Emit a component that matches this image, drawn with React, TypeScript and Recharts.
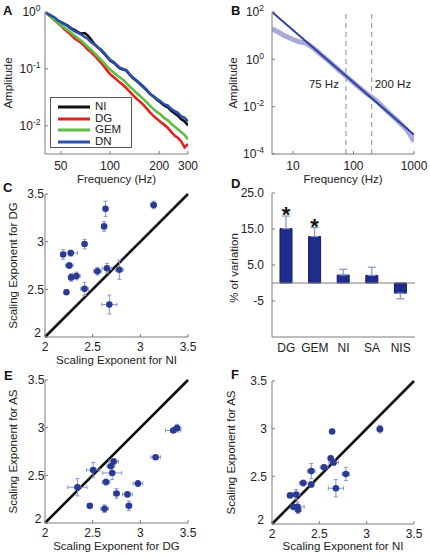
import React from 'react';
import {
  LineChart, Line, XAxis, YAxis, Legend, ReferenceLine,
  ScatterChart, Scatter, ErrorBar, BarChart, Bar, LabelList,
} from 'recharts';

const FONT = '"Liberation Sans", Arial, Helvetica, sans-serif';
const AXIS = '#7c7c7c';
const TXT = '#222222';
const TICK = { fontSize: 12, fill: TXT, fontFamily: FONT };
const DOT = '#2b3a92';
const ERR = '#8595cc';

// ---------- Panel A : normalized spectra ----------
const freqA = [40, 42, 44, 46, 48, 50, 52, 55, 58, 61, 64, 67, 70, 73, 76, 80, 84, 88, 92, 96, 100, 105, 110, 115, 120, 126, 132, 138, 145, 152, 160, 168, 176, 185, 194, 204, 214, 225, 236, 248, 260, 272, 286, 300];
const ampNI = [1, 0.912, 0.832, 0.776, 0.708, 0.661, 0.631, 0.575, 0.513, 0.479, 0.437, 0.417, 0.427, 0.389, 0.339, 0.275, 0.240, 0.214, 0.186, 0.162, 0.141, 0.129, 0.115, 0.102, 0.0977, 0.0933, 0.0794, 0.0692, 0.0617, 0.0550, 0.0479, 0.0417, 0.0363, 0.0324, 0.0288, 0.0257, 0.0229, 0.0214, 0.0186, 0.0166, 0.0151, 0.0132, 0.0120, 0.0102];
const ampDG = [1, 0.891, 0.794, 0.708, 0.631, 0.575, 0.513, 0.447, 0.389, 0.339, 0.309, 0.282, 0.251, 0.219, 0.200, 0.174, 0.148, 0.129, 0.110, 0.0933, 0.0813, 0.0724, 0.0646, 0.0575, 0.0525, 0.0457, 0.0398, 0.0347, 0.0302, 0.0269, 0.0234, 0.0200, 0.0170, 0.0148, 0.0132, 0.0117, 0.0105, 0.00933, 0.00794, 0.00676, 0.00617, 0.00537, 0.00417, 0.00479];
const ampGEM = [1, 0.891, 0.794, 0.724, 0.646, 0.589, 0.537, 0.479, 0.427, 0.380, 0.339, 0.309, 0.275, 0.245, 0.219, 0.191, 0.166, 0.145, 0.126, 0.110, 0.0977, 0.0871, 0.0776, 0.0708, 0.0646, 0.0562, 0.0490, 0.0437, 0.0380, 0.0339, 0.0295, 0.0257, 0.0224, 0.0195, 0.0174, 0.0158, 0.0138, 0.0126, 0.0110, 0.00977, 0.00871, 0.00776, 0.00692, 0.00575];
const ampDN = [1, 0.912, 0.851, 0.794, 0.708, 0.661, 0.617, 0.562, 0.501, 0.457, 0.427, 0.398, 0.363, 0.339, 0.302, 0.269, 0.240, 0.219, 0.191, 0.166, 0.145, 0.132, 0.117, 0.105, 0.100, 0.0955, 0.0794, 0.0708, 0.0631, 0.0562, 0.0490, 0.0427, 0.0363, 0.0331, 0.0295, 0.0269, 0.0240, 0.0229, 0.0200, 0.0182, 0.0170, 0.0148, 0.0138, 0.0120];
const namesA = ['NI', 'DG', 'GEM', 'DN'];
const colorsA = ['#111111', '#e3231f', '#5cbf40', '#2b50ad'];
const ticksAx = [50, 100, 200, 300];
const ticksAy = [0.01, 0.1, 1];
const dataA = freqA.map((f, i) => ({ f, NI: ampNI[i], DG: ampDG[i], GEM: ampGEM[i], DN: ampDN[i] }));

// ---------- Panel B : power-law fit ----------
const freqB = [4.5, 5.5, 7, 8.5, 10, 12, 14, 16, 18, 21, 25, 30, 40, 50, 60, 75, 90, 110, 130, 160, 200, 240, 280, 330, 400, 480, 560, 650, 750, 850, 1000];
const ampB = [19.1, 15.1, 10.5, 8.3, 6.9, 5.75, 5.25, 5.0, 4.17, 3.16, 2.24, 1.48, 0.794, 0.479, 0.316, 0.195, 0.132, 0.0851, 0.0589, 0.038, 0.0251, 0.0174, 0.012, 0.00794, 0.00501, 0.00331, 0.00229, 0.00158, 0.00107, 0.000692, 0.000339];
const freqFit = [4.5, 1000];
const ampFit = [100, 0.00065];
const cutoffsB = [75, 200];
const ticksBx = [10, 100, 1000];
const ticksBy = [0.0001, 0.01, 1, 100];
const dataB = freqB.map((f, i) => ({ f, a: ampB[i] }));
const dataFit = freqFit.map((f, i) => ({ f, a: ampFit[i] }));

// ---------- Panel D : % of variation ----------
const catsD = ['DG', 'GEM', 'NI', 'SA', 'NIS'];
const valsD = [15.1, 12.9, 2.2, 2.1, -2.8];
const errUpD = [3.5, 2.5, 1.6, 2.3, 0];
const errDownD = [0, 0, 0, 0, 1.6];
const starsD = ['*', '*', '', '', ''];
const ticksDy = [-5, 0, 5, 15, 25];
const dataD = catsD.map((c, i) => ({ cat: c, v: valsD[i], err: [errDownD[i], errUpD[i]], star: starsD[i] }));

// ---------- Panels C, E, F : scaling exponents per subject ----------
const expNI = [2.19, 2.27, 2.255, 2.275, 2.33, 2.225, 2.415, 2.415, 2.55, 2.65, 2.78, 2.675, 2.62, 2.635, 3.14];
const expDG = [2.865, 2.88, 2.75, 2.625, 2.64, 2.47, 2.975, 2.505, 2.69, 2.72, 2.705, 2.34, 3.16, 3.345, 3.385];
const expAS = [2.30, 2.18, 2.31, 2.15, 2.43, 2.18, 2.415, 2.555, 2.595, 2.645, 2.525, 2.375, 2.69, 2.97, 2.995];
const errNI = [0.02, 0.07, 0.04, 0.03, 0.04, 0.02, 0.02, 0.04, 0.04, 0.05, 0.04, 0.08, 0.02, 0.02, 0.03];
const errDG = [0.05, 0.03, 0.03, 0.04, 0.04, 0.02, 0.05, 0.07, 0.04, 0.05, 0.10, 0.10, 0.05, 0.08, 0.04];
const errAS = [0.02, 0.05, 0.05, 0.04, 0.03, 0.02, 0.03, 0.08, 0.02, 0.03, 0.07, 0.09, 0.02, 0.02, 0.04];
const ticksExp = [2, 2.5, 3, 3.5];

const pairs = (xs: number[], ys: number[], exs: number[], eys: number[]) =>
  xs.map((x, i) => ({ x, y: ys[i], ex: exs[i], ey: eys[i] }));
const dataC = pairs(expNI, expDG, errNI, errDG);
const dataE = pairs(expDG, expAS, errDG, errAS);
const dataF = pairs(expNI, expAS, errNI, errAS);

// ---------- helpers ----------
const PowTick = (props: any) => {
  const { x, y, payload } = props;
  const exp = Math.round(Math.log10(payload.value));
  return (
    <text x={x} y={y} textAnchor="end" fontFamily={FONT} fontSize={12} fill={TXT}>
      <tspan dy="0.36em">10</tspan>
      <tspan dy="-0.6em" fontSize={8.5}>{String(exp)}</tspan>
    </text>
  );
};

// y tick for exponent plots: the lowest label sits a little higher and further left, as in the figure
const ExpYTick = (props: any) => {
  const { x, y, payload } = props;
  const low = payload.value === ticksExp[0];
  return (
    <text x={low ? x - 3 : x} y={low ? y - 4 : y} dy="0.36em" textAnchor="end" fontFamily={FONT} fontSize={12} fill={TXT}>
      {String(payload.value)}
    </text>
  );
};

const yTitle = (text: string, bx: number, shift = 0) => (p: any) => {
  const vb = p.viewBox || {};
  const cy = vb.y + vb.height / 2 + shift;
  return (
    <text transform={`translate(${bx},${cy}) rotate(-90)`} textAnchor="middle" fontFamily={FONT} fontSize={11.5} fill={TXT}>
      {text}
    </text>
  );
};

const xTitle = (text: string, by: number) => (p: any) => {
  const vb = p.viewBox || {};
  const cx = vb.x + vb.width / 2;
  return (
    <text x={cx} y={by} textAnchor="middle" fontFamily={FONT} fontSize={11.5} fill={TXT}>
      {text}
    </text>
  );
};

const LegendA = (props: any) => {
  const payload = [...(props.payload || [])].sort(
    (a: any, b: any) => namesA.indexOf(a.value) - namesA.indexOf(b.value),
  );
  return (
    <div style={{ border: '1px solid #555', background: '#fff', width: 82, height: 51, boxSizing: 'border-box', padding: '3px 0 0 7px', fontFamily: FONT, fontSize: 11.5, color: TXT }}>
      {payload.map((e: any) => (
        <div key={e.value} style={{ display: 'flex', alignItems: 'center', height: 11.7 }}>
          <svg width={32} height={4}><line x1={0} y1={2} x2={32} y2={2} stroke={e.color} strokeWidth={3} /></svg>
          <span style={{ marginLeft: 5, lineHeight: '11.7px' }}>{e.value}</span>
        </div>
      ))}
    </div>
  );
};

const dotShape = (p: any) => <circle cx={p.cx} cy={p.cy} r={3.3} fill={DOT} />;

const StarLabel = (props: any) => {
  const { x, y, width, height, index, value } = props;
  if (!value) return null;
  const v = valsD[index];
  const ppu = Math.abs(height) / Math.abs(v);
  const topY = Math.min(y, y + height) - errUpD[index] * ppu;
  return (
    <text x={x + width / 2} y={topY + 6} textAnchor="middle" fontSize={22} fontWeight="bold" fontFamily={FONT} fill="#111">
      {value}
    </text>
  );
};

const cutLabel = (side: 'left' | 'right', text: string) => (p: any) => {
  const vb = p.viewBox || {};
  const x = side === 'left' ? vb.x - 7 : vb.x + 3;
  return (
    <text x={x} y={vb.y + 75.5} textAnchor={side === 'left' ? 'end' : 'start'} fontFamily={FONT} fontSize={11.5} fill={TXT}>
      {text}
    </text>
  );
};

// ---------- panels ----------
const PanelA = () => (
  <LineChart width={215} height={185} data={dataA} margin={{ top: 12, right: 27, bottom: 0, left: 0 }}>
    <XAxis type="number" dataKey="f" scale="log" domain={[40, 300]} allowDataOverflow ticks={ticksAx}
      height={31} stroke={AXIS} tickSize={-3} tickMargin={10} tick={TICK} label={xTitle('Frequency (Hz)', 182.5)} />
    <YAxis type="number" scale="log" domain={[0.0032, 1]} allowDataOverflow ticks={ticksAy}
      width={45} stroke={AXIS} tickSize={-3} tickMargin={7.5} tick={<PowTick />} label={yTitle('Amplitude', 12.2)} />
    {namesA.map((n, i) => (
      <Line key={n} dataKey={n} name={n} stroke={colorsA[i]} strokeWidth={2.6} dot={false} isAnimationActive={false} type="linear" />
    ))}
    <Legend content={<LegendA />} layout="vertical" align="center" verticalAlign="middle"
      wrapperStyle={{ left: 50, top: 97, width: 82, height: 51 }} />
  </LineChart>
);

const PanelB = () => (
  <LineChart width={215} height={185} margin={{ top: 12, right: 16, bottom: 0, left: 0 }}>
    <XAxis type="number" dataKey="f" scale="log" domain={[4.5, 1000]} allowDataOverflow ticks={ticksBx}
      height={31} stroke={AXIS} tickSize={-3} tickMargin={10} tick={TICK} label={xTitle('Frequency (Hz)', 182.5)} />
    <YAxis type="number" scale="log" domain={[0.0001, 100]} allowDataOverflow ticks={ticksBy}
      width={57} stroke={AXIS} tickSize={-3} tickMargin={11} tick={<PowTick />} label={yTitle('Amplitude', 21.5)} />
    <ReferenceLine x={cutoffsB[0]} stroke="#8a8a8a" strokeDasharray="5 4" label={cutLabel('left', '75 Hz')} />
    <ReferenceLine x={cutoffsB[1]} stroke="#8a8a8a" strokeDasharray="5 4" label={cutLabel('right', '200 Hz')} />
    <Line data={dataB} dataKey="a" stroke="#a9a9da" strokeWidth={5} dot={false} isAnimationActive={false} type="linear" />
    <Line data={dataFit} dataKey="a" stroke="#2e3e9c" strokeWidth={2} dot={false} isAnimationActive={false} type="linear" />
  </LineChart>
);

const ScatterPanel = ({ data, w, h, top, right, yw, ym, xLabel, yLabel, ytx, xty }: any) => (
  <ScatterChart width={w} height={h} margin={{ top, right, bottom: 0, left: 0 }}>
    <XAxis type="number" dataKey="x" domain={[2, 3.5]} allowDataOverflow ticks={ticksExp}
      height={h - top - 143} stroke={AXIS} tickSize={-3} tickMargin={8.5} tick={TICK} label={xTitle(xLabel, xty)} />
    <YAxis type="number" dataKey="y" domain={[2, 3.5]} allowDataOverflow ticks={ticksExp}
      width={yw} stroke={AXIS} tickSize={-3} tickMargin={ym} tick={<ExpYTick />} label={yTitle(yLabel, ytx)} />
    <ReferenceLine segment={[{ x: 2, y: 2 }, { x: 3.5, y: 3.5 }]} stroke="#111" strokeWidth={2.6} />
    <Scatter data={data} shape={dotShape} isAnimationActive={false}>
      <ErrorBar dataKey="ex" direction="x" width={2} stroke={ERR} strokeWidth={1} />
      <ErrorBar dataKey="ey" direction="y" width={2} stroke={ERR} strokeWidth={1} />
    </Scatter>
  </ScatterChart>
);

const PanelD = () => (
  <BarChart width={215} height={185} data={dataD} margin={{ top: 8, right: 15, bottom: 0, left: 0 }}>
    <XAxis dataKey="cat" type="category" height={33} stroke={AXIS} tickLine={false} tickSize={0} tickMargin={6} tick={TICK} />
    <YAxis type="number" domain={[-15, 25]} allowDataOverflow ticks={ticksDy} width={57} stroke={AXIS}
      tickSize={-3} tickMargin={11} tick={TICK}
      tickFormatter={(v: number) => (v === 0 ? '0' : v < 0 ? String(v) : v.toFixed(1))}
      label={yTitle('% of variation', 23, 3)} />
    <ReferenceLine y={0} stroke={AXIS} />
    <Bar dataKey="v" barSize={12} fill="#1f2b8d" stroke="#141c62" strokeWidth={1} isAnimationActive={false}>
      <ErrorBar dataKey="err" width={4} stroke={ERR} strokeWidth={1.2} />
      <LabelList dataKey="star" content={<StarLabel />} />
    </Bar>
  </BarChart>
);

const letters = [
  { t: 'A', x: 3, y: 15 }, { t: 'B', x: 231, y: 15 },
  { t: 'C', x: 3, y: 192 }, { t: 'D', x: 231, y: 188 },
  { t: 'E', x: 4, y: 380 }, { t: 'F', x: 231, y: 379 },
];

export default function App() {
  return (
    <div style={{ position: 'absolute', left: 0, top: 0, width: 430, height: 557, background: '#fff', overflow: 'hidden' }}>
      <div style={{ position: 'absolute', left: 0, top: 0 }}><PanelA /></div>
      <div style={{ position: 'absolute', left: 215, top: 0 }}><PanelB /></div>
      <div style={{ position: 'absolute', left: 0, top: 185 }}>
        <ScatterPanel data={dataC} w={215} h={185} top={9} right={27} yw={45} ym={4}
          xLabel="Scaling Exponent for NI" yLabel="Scaling Exponent for DG" ytx={17.2} xty={179} />
      </div>
      <div style={{ position: 'absolute', left: 215, top: 185 }}><PanelD /></div>
      <div style={{ position: 'absolute', left: 0, top: 370 }}>
        <ScatterPanel data={dataE} w={215} h={187} top={10} right={27} yw={45} ym={3.5}
          xLabel="Scaling Exponent for DG" yLabel="Scaling Exponent for AS" ytx={17.2} xty={180} />
      </div>
      <div style={{ position: 'absolute', left: 215, top: 370 }}>
        <ScatterPanel data={dataF} w={215} h={187} top={11} right={16} yw={57} ym={8}
          xLabel="Scaling Exponent for NI" yLabel="Scaling Exponent for AS" ytx={19.6} xty={180} />
      </div>
      <svg width={430} height={557} style={{ position: 'absolute', left: 0, top: 0, pointerEvents: 'none' }}>
        {letters.map((l) => (
          <text key={l.t} x={l.x} y={l.y} fontFamily={FONT} fontSize={13} fontWeight="bold" fill="#111">{l.t}</text>
        ))}
      </svg>
    </div>
  );
}
